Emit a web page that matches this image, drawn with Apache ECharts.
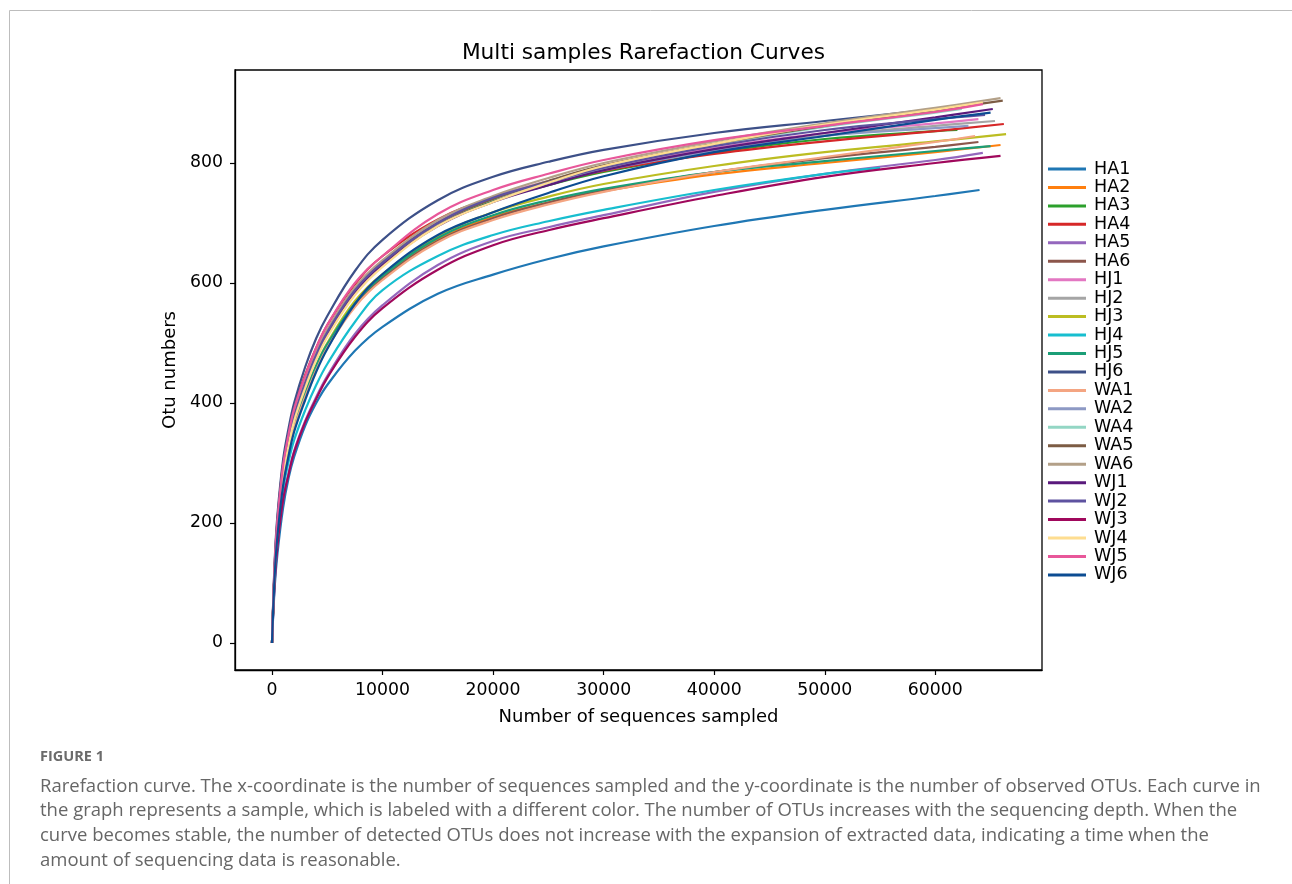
<!DOCTYPE html>
<html>
<head>
<meta charset="utf-8">
<script src="https://cdn.jsdelivr.net/npm/echarts@6/dist/echarts.min.js"></script>
<style>
  html, body { margin: 0; padding: 0; background: #fff; }
  #chart { width: 1292px; height: 884px; }
</style>
</head>
<body>
<div id="chart"></div>
<script>
// sampling depths shared by every curve (number of sequences)
const depths = [0, 250, 500, 1000, 1500, 2000, 3000, 4000, 5000, 7500, 10000, 15000, 20000, 25000, 30000, 40000, 50000, 60000];

const sampleNames = ['HA1', 'HA2', 'HA3', 'HA4', 'HA5', 'HA6', 'HJ1', 'HJ2', 'HJ3', 'HJ4', 'HJ5', 'HJ6',
  'WA1', 'WA2', 'WA4', 'WA5', 'WA6', 'WJ1', 'WJ2', 'WJ3', 'WJ4', 'WJ5', 'WJ6'];

const sampleColors = ['#1f77b4', '#ff7f0e', '#2ca02c', '#d62728', '#9467bd', '#8c564b', '#e377c2', '#a5a5a5',
  '#bcbd22', '#17becf', '#1b9e77', '#3d5088', '#f4a582', '#8d99c4', '#93d6c4', '#7c5c44', '#b3a088',
  '#5a1a7c', '#5e52a0', '#a0085c', '#fedd90', '#e8579a', '#0c4c92'];

// OTU numbers read at each depth (null = beyond that sample's depth)
const HA1 = [0, 95, 150, 225, 275, 310, 362, 400, 430, 487, 527, 582, 614, 640, 661, 695, 722, 745];
const HA2 = [0, 120, 187, 273, 322, 362, 414, 460, 496, 564, 610, 672, 710, 734, 753, 781, 800, 818];
const HA3 = [0, 125, 195, 285, 337, 377, 432, 478, 515, 585, 630, 697, 737, 763, 785, 817, 840, 853];
const HA4 = [0, 135, 208, 298, 350, 392, 447, 492, 530, 598, 645, 706, 742, 766, 787, 815, 836, 853];
const HA5 = [0, 105, 165, 240, 283, 320, 370, 410, 445, 515, 563, 630, 670, 693, 713, 752, 782, 805];
const HA6 = [0, 119, 186, 272, 320, 360, 412, 458, 495, 563, 608, 670, 708, 734, 755, 785, 808, 827];
const HJ1 = [0, 129, 200, 290, 342, 383, 438, 484, 522, 592, 637, 703, 743, 770, 792, 825, 850, 866];
const HJ2 = [0, 127, 198, 288, 340, 380, 435, 482, 520, 590, 635, 700, 742, 768, 790, 822, 846, 862];
const HJ3 = [0, 120, 188, 275, 325, 365, 418, 463, 500, 570, 615, 678, 718, 744, 765, 795, 818, 836];
const HJ4 = [0, 112, 175, 255, 302, 338, 388, 430, 465, 535, 588, 645, 680, 703, 722, 755, 782, null];
const HJ5 = [0, 120, 188, 275, 325, 364, 416, 462, 498, 566, 612, 675, 713, 738, 757, 785, 803, 820];
const HJ6 = [0, 140, 215, 305, 358, 400, 460, 508, 545, 620, 672, 738, 777, 802, 822, 850, 870, 890];
const WA1 = [0, 118, 185, 270, 318, 358, 410, 455, 492, 560, 605, 668, 705, 731, 752, 785, 810, 835];
const WA2 = [0, 126, 197, 287, 339, 380, 435, 481, 519, 589, 634, 700, 740, 766, 788, 820, 845, 858];
const WA4 = [0, 125, 195, 284, 336, 377, 432, 479, 517, 587, 633, 700, 740, 770, 795, 830, 860, 884];
const WA5 = [0, 126, 196, 285, 337, 378, 433, 480, 518, 588, 634, 700, 740, 770, 796, 832, 862, 888];
const WA6 = [0, 127, 198, 288, 340, 382, 437, 484, 522, 592, 638, 705, 745, 775, 800, 836, 866, 892];
const WJ1 = [0, 124, 193, 282, 334, 375, 430, 477, 515, 585, 630, 695, 735, 763, 788, 823, 850, 876];
const WJ2 = [0, 125, 195, 285, 337, 378, 433, 480, 518, 588, 634, 700, 742, 768, 792, 828, 855, 873];
const WJ3 = [0, 104, 163, 238, 281, 318, 368, 407, 442, 510, 558, 622, 663, 688, 708, 745, 777, 800];
const WJ4 = [0, 122, 190, 278, 329, 370, 425, 472, 510, 580, 627, 695, 735, 767, 795, 832, 864, 889];
const WJ5 = [0, 132, 205, 295, 348, 390, 445, 492, 530, 600, 645, 715, 755, 782, 805, 838, 862, 885];
const WJ6 = [0, 115, 180, 262, 312, 352, 405, 452, 490, 565, 615, 680, 718, 750, 778, 818, 845, 872];

// final point of each curve: total sequences and OTUs
const endDepth = [64000, 65900, 62000, 66200, 64300, 63900, 63900, 65400, 66400, 55000, 65000, 61000,
  63600, 63000, 62400, 66100, 65900, 65200, 64500, 65900, 64300, 64300, 65000];
const endOtu = [755, 830, 855, 865, 817, 835, 873, 870, 848, 792, 828, 893,
  845, 862, 890, 904, 908, 890, 880, 812, 901, 898, 884];

const sampleValues = [HA1, HA2, HA3, HA4, HA5, HA6, HJ1, HJ2, HJ3, HJ4, HJ5, HJ6,
  WA1, WA2, WA4, WA5, WA6, WJ1, WJ2, WJ3, WJ4, WJ5, WJ6];

const xTicks = [0, 10000, 20000, 30000, 40000, 50000, 60000];
const yTicks = [0, 200, 400, 600, 800];

const captionLines = [
  'Rarefaction curve. The x-coordinate is the number of sequences sampled and the y-coordinate is the number of observed OTUs. Each curve in',
  'the graph represents a sample, which is labeled with a different color. The number of OTUs increases with the sequencing depth. When the',
  'curve becomes stable, the number of detected OTUs does not increase with the expansion of extracted data, indicating a time when the',
  'amount of sequencing data is reasonable.'
];

const chart = echarts.init(document.getElementById('chart'));
const mpl = 'DejaVu Sans';

const series = sampleNames.map((name, i) => {
  const data = [];
  depths.forEach((d, k) => {
    const v = sampleValues[i][k];
    if (v !== null && d < endDepth[i]) data.push([d, v]);
  });
  data.push([endDepth[i], endOtu[i]]);
  return {
    name,
    type: 'line',
    data,
    smooth: 0.4,
    symbol: 'none',
    color: sampleColors[i],
    lineStyle: { width: 2.2, color: sampleColors[i] },
    animation: false,
    z: 2 + i
  };
});

const captionGraphics = captionLines.map((t, i) => ({
  type: 'text',
  left: 40,
  top: 777 + i * 24.7,
  style: { text: t, fontFamily: 'Open Sans', fontSize: 18.5, fill: '#666666' }
}));

chart.setOption({
  animation: false,
  title: {
    text: 'Multi samples Rarefaction Curves',
    left: 638.5,
    textAlign: 'center',
    top: 37,
    textStyle: { fontFamily: mpl, fontWeight: 'normal', fontSize: 21.7, color: '#000' }
  },
  legend: {
    orient: 'vertical',
    left: 1048,
    top: 160,
    padding: 0,
    icon: 'rect',
    itemWidth: 38,
    itemHeight: 3,
    itemGap: 0.45,
    textStyle: { fontFamily: mpl, fontSize: 17.5, color: '#000', lineHeight: 18, padding: [0, 0, 0, 3] },
    data: sampleNames
  },
  grid: {
    left: 235,
    right: 250,
    top: 70,
    bottom: 214,
    show: true,
    borderColor: '#000',
    borderWidth: 1.3,
    containLabel: false
  },
  xAxis: {
    type: 'value',
    min: -3347,
    max: 69651,
    name: 'Number of sequences sampled',
    nameLocation: 'middle',
    nameGap: 38,
    nameTextStyle: { fontFamily: mpl, fontSize: 18, color: '#000' },
    axisLine: { show: true, onZero: false, lineStyle: { color: '#000', width: 1.3 } },
    axisTick: { show: true, length: 5, customValues: xTicks, lineStyle: { color: '#000', width: 1.2 } },
    axisLabel: { customValues: xTicks, formatter: v => String(v), fontFamily: mpl, fontSize: 17.3, color: '#000', margin: 12 },
    splitLine: { show: false }
  },
  yAxis: {
    type: 'value',
    min: -45,
    max: 955,
    name: 'Otu numbers',
    nameLocation: 'middle',
    nameGap: 52,
    nameRotate: 90,
    nameTextStyle: { fontFamily: mpl, fontSize: 18, color: '#000' },
    axisLine: { show: true, onZero: false, lineStyle: { color: '#000', width: 1.3 } },
    axisTick: { show: true, length: 5, customValues: yTicks, lineStyle: { color: '#000', width: 1.2 } },
    axisLabel: { customValues: yTicks, formatter: v => String(v), fontFamily: mpl, fontSize: 17.3, color: '#000', margin: 12 },
    splitLine: { show: false }
  },
  graphic: [
    { type: 'line', shape: { x1: 9.5, y1: 10.5, x2: 1292, y2: 10.5 }, style: { stroke: '#bdbdbd', lineWidth: 1 } },
    { type: 'line', shape: { x1: 9.5, y1: 10.5, x2: 9.5, y2: 884 }, style: { stroke: '#bdbdbd', lineWidth: 1 } },
    {
      type: 'text',
      left: 40,
      top: 749,
      style: { text: 'FIGURE 1', fontFamily: 'Open Sans', fontWeight: 'bold', fontSize: 14.5, fill: '#6b6b6b' }
    }
  ].concat(captionGraphics),
  series
});
</script>
</body>
</html>
